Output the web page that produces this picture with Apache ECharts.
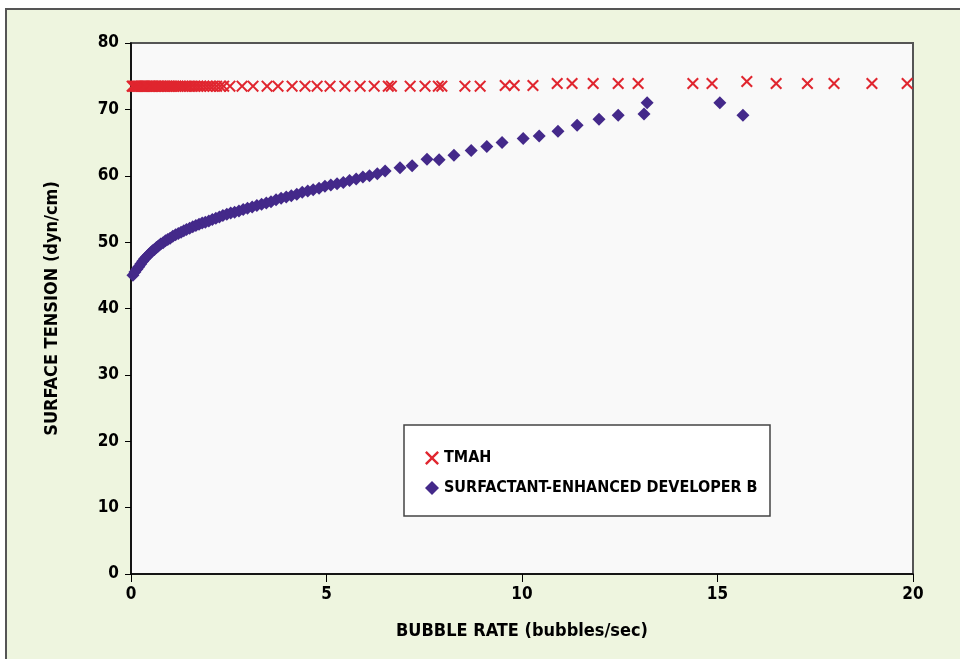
<!DOCTYPE html>
<html>
<head>
<meta charset="utf-8">
<script src="https://cdn.jsdelivr.net/npm/echarts@6/dist/echarts.min.js"></script>
<style>
html,body{margin:0;padding:0;background:#ffffff;}
#chart{width:960px;height:659px;}
</style>
</head>
<body>
<div id="chart"></div>
<script>
// ---- Data ----
const xTicks = [0, 5, 10, 15, 20];
const yTicks = [0, 10, 20, 30, 40, 50, 60, 70, 80];
const seriesNames = ["TMAH", "SURFACTANT-ENHANCED DEVELOPER B"];

const tmahX = [0.03,0.06,0.09,0.12,0.15,0.18,0.21,0.24,0.27,0.3,0.33,0.36,0.39,0.42,0.45,0.48,0.51,0.54,0.57,0.6,
  0.64,0.68,0.72,0.76,0.8,0.84,0.88,0.92,0.96,1.0,1.05,1.1,1.15,1.2,1.26,1.32,1.38,1.44,1.5,1.57,1.64,1.71,1.78,
  1.86,1.94,2.02,2.1,2.19,2.28,2.37,2.53,2.84,3.12,3.48,3.76,4.12,4.45,4.76,5.09,5.47,5.86,6.22,6.58,6.66,7.14,
  7.52,7.86,7.95,8.54,8.93,9.57,9.80,10.28,10.9,11.28,11.82,12.46,12.97,14.37,14.86,15.75,16.5,17.3,17.98,18.95,19.85];
const tmahY = [73.5,73.5,73.5,73.5,73.5,73.5,73.5,73.5,73.5,73.5,73.5,73.5,73.5,73.5,73.5,73.5,73.5,73.5,73.5,73.5,
  73.5,73.5,73.5,73.5,73.5,73.5,73.5,73.5,73.5,73.5,73.5,73.5,73.5,73.5,73.5,73.5,73.5,73.5,73.5,73.5,73.5,73.5,73.5,
  73.5,73.5,73.5,73.5,73.5,73.5,73.5,73.5,73.5,73.5,73.5,73.5,73.5,73.5,73.5,73.5,73.5,73.5,73.5,73.5,73.5,73.5,
  73.5,73.5,73.5,73.5,73.5,73.6,73.6,73.6,73.9,73.9,73.9,73.9,73.9,73.9,73.9,74.2,73.9,73.9,73.9,73.9,73.9];

const devX = [0.05,0.1,0.15,0.2,0.25,0.3,0.35,0.4,0.45,0.5,0.55,0.6,0.65,0.7,0.76,0.82,0.88,0.94,1.0,1.07,1.14,1.21,
  1.28,1.35,1.42,1.5,1.58,1.66,1.74,1.82,1.9,1.99,2.08,2.17,2.26,2.35,2.45,2.55,2.65,2.76,2.87,2.98,3.1,3.22,3.34,
  3.46,3.58,3.71,3.84,3.97,4.1,4.24,4.38,4.52,4.66,4.81,4.96,5.11,5.27,5.43,5.59,5.76,5.93,6.1,6.3,6.5,6.88,7.19,
  7.57,7.88,8.26,8.70,9.10,9.49,10.03,10.44,10.92,11.41,11.97,12.46,13.12,13.20,15.06,15.65];
const devY = [45.0,45.5,45.9,46.3,46.7,47.1,47.5,47.8,48.1,48.4,48.7,48.9,49.2,49.4,49.7,49.9,50.2,50.4,50.6,50.9,51.1,51.3,
  51.5,51.7,51.9,52.1,52.3,52.5,52.7,52.9,53.0,53.2,53.4,53.6,53.8,54.0,54.2,54.4,54.5,54.7,54.9,55.1,55.3,55.5,55.7,
  55.9,56.1,56.4,56.6,56.8,57.0,57.2,57.5,57.7,57.9,58.1,58.4,58.6,58.8,59.0,59.3,59.5,59.8,60.0,60.3,60.7,61.2,61.5,
  62.5,62.4,63.1,63.8,64.4,65.0,65.6,66.0,66.7,67.6,68.5,69.1,69.3,71.0,71.0,69.1];

// ---- Chart ----
const FONT = "'Liberation Sans Narrow','DejaVu Sans Condensed','Roboto',sans-serif";
const RED = '#E0262F';
const PURPLE = '#44298A';
const CROSS = 'path://M0,1.2L1.2,0L5,3.8L8.8,0L10,1.2L6.2,5L10,8.8L8.8,10L5,6.2L1.2,10L0,8.8L3.8,5Z';

const chart = echarts.init(document.getElementById('chart'), null, {renderer: 'canvas'});
chart.setOption({
  animation: false,
  backgroundColor: '#ffffff',
  graphic: [
    {type: 'rect', z: -10, shape: {x: 6, y: 9, width: 1000, height: 700},
     style: {fill: '#EEF5DF', stroke: '#555555', lineWidth: 2}},
    {type: 'rect', z: 50, shape: {x: 404, y: 425, width: 366, height: 91},
     style: {fill: '#ffffff', stroke: '#444444', lineWidth: 1.5}}
  ],
  grid: {left: 131, top: 43, right: 47, bottom: 85, show: true,
    backgroundColor: '#F9F9F9', borderColor: '#555555', borderWidth: 2},
  legend: {
    orient: 'vertical', left: 420, top: 445, itemGap: 14, itemWidth: 14, itemHeight: 14, z: 60,
    textStyle: {fontFamily: FONT, fontWeight: 'bold', fontSize: 16, color: '#000'},
    data: [
      {name: seriesNames[0], icon: CROSS},
      {name: seriesNames[1], icon: 'diamond'}
    ]
  },
  xAxis: {
    type: 'value', min: xTicks[0], max: xTicks[xTicks.length - 1], interval: 5,
    name: 'BUBBLE RATE (bubbles/sec)', nameLocation: 'middle', nameGap: 48,
    nameTextStyle: {fontFamily: FONT, fontWeight: 'bold', fontSize: 18, color: '#000'},
    axisLine: {show: true, onZero: false, lineStyle: {color: '#000', width: 1.5}},
    axisTick: {show: true, inside: false, length: 8, lineStyle: {color: '#000'}},
    axisLabel: {fontFamily: FONT, fontWeight: 'bold', fontSize: 17, color: '#000', margin: 12},
    splitLine: {show: false}
  },
  yAxis: {
    type: 'value', min: yTicks[0], max: yTicks[yTicks.length - 1], interval: 10,
    name: 'SURFACE TENSION (dyn/cm)', nameLocation: 'middle', nameGap: 70, nameRotate: 90,
    nameTextStyle: {fontFamily: FONT, fontWeight: 'bold', fontSize: 18, color: '#000'},
    axisLine: {show: true, onZero: false, lineStyle: {color: '#000', width: 1.5}},
    axisTick: {show: true, inside: false, length: 6, lineStyle: {color: '#000'}},
    axisLabel: {fontFamily: FONT, fontWeight: 'bold', fontSize: 17, color: '#000', margin: 12},
    splitLine: {show: false}
  },
  series: [
    {name: seriesNames[0], type: 'scatter', symbol: CROSS, symbolSize: 12,
     itemStyle: {color: RED, opacity: 1}, z: 3,
     data: tmahX.map((x, i) => [x, tmahY[i]])},
    {name: seriesNames[1], type: 'scatter', symbol: 'diamond', symbolSize: 13,
     itemStyle: {color: PURPLE, opacity: 1}, z: 4,
     data: devX.map((x, i) => [x, devY[i]])}
  ]
});
</script>
</body>
</html>
